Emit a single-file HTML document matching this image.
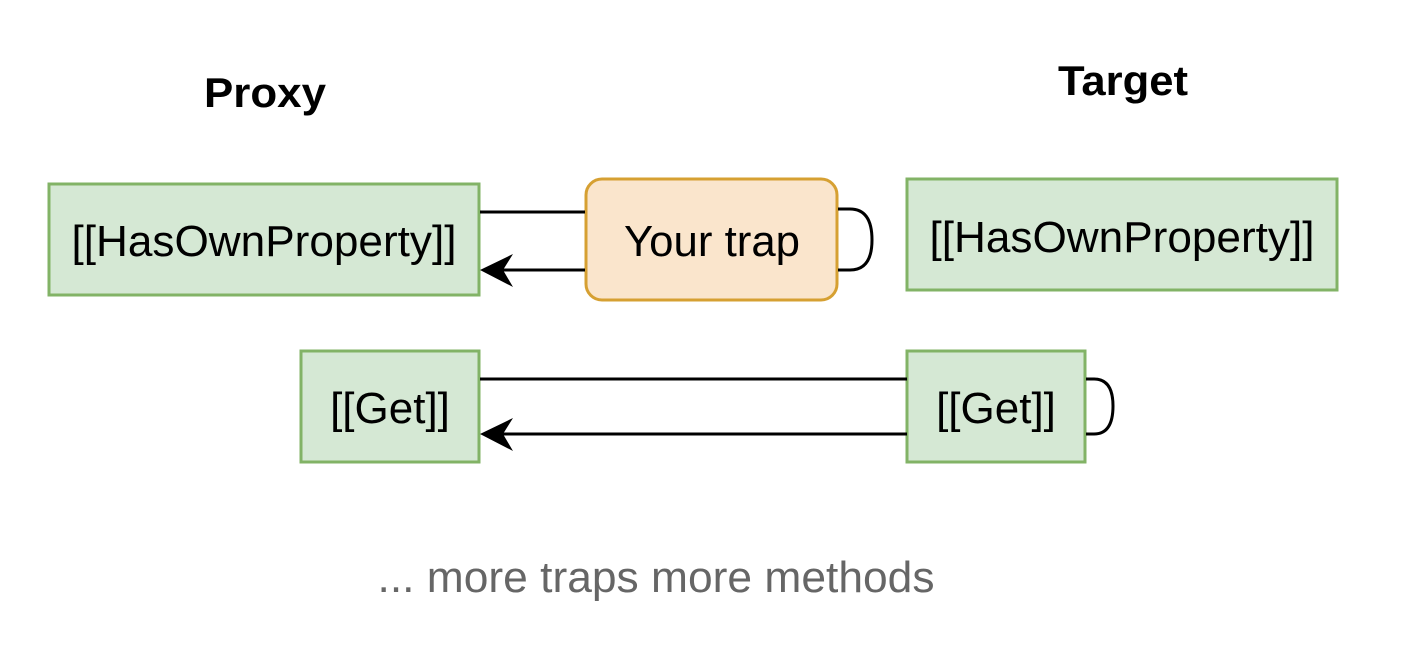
<!DOCTYPE html>
<html><head><style>body{margin:0;background:#fff}svg{display:block}</style></head><body>
<svg width="1424" height="664" xmlns="http://www.w3.org/2000/svg" font-family="Liberation Sans, Arial, sans-serif">
<g stroke="#82b366" stroke-width="3" fill="#d5e8d4">
<rect x="49" y="184" width="430" height="111"/>
<rect x="907" y="179" width="430" height="111"/>
<rect x="301" y="351" width="178" height="111"/>
<rect x="907" y="351" width="178" height="111"/>
</g>
<rect x="586" y="179" width="251" height="121" rx="16" fill="#fae5cc" stroke="#d6a032" stroke-width="3"/>
<g stroke="#000" stroke-width="3" fill="none">
<line x1="480" y1="212" x2="585" y2="212"/>
<line x1="500" y1="270" x2="585" y2="270"/>
<path d="M838 209 H850 Q872 209 872 240 Q872 270 850 270 H838"/>
<line x1="480" y1="379" x2="907" y2="379"/>
<line x1="500" y1="434" x2="907" y2="434"/>
<path d="M1086 379 H1094 Q1113 379 1113 406 Q1113 434 1094 434 H1086"/>
</g>
<path d="M480 270 L513 254 L503 270 L513 287 Z" fill="#000"/>
<path d="M480 434 L513 418 L503 434 L513 451 Z" fill="#000"/>
<g font-size="44" text-anchor="middle" fill="#000">
<text x="264" y="256" textLength="385" lengthAdjust="spacingAndGlyphs">[[HasOwnProperty]]</text>
<text x="712" y="256" textLength="176" lengthAdjust="spacingAndGlyphs">Your trap</text>
<text x="1122" y="252" textLength="385" lengthAdjust="spacingAndGlyphs">[[HasOwnProperty]]</text>
<text x="390" y="423">[[Get]]</text>
<text x="996" y="423">[[Get]]</text>
<text x="265" y="107" font-weight="bold" font-size="42" textLength="122" lengthAdjust="spacingAndGlyphs">Proxy</text>
<text x="1123" y="95" font-weight="bold" font-size="42" textLength="130" lengthAdjust="spacingAndGlyphs">Target</text>
<text x="656" y="592" fill="#666" textLength="557" lengthAdjust="spacingAndGlyphs">... more traps more methods</text>
</g>
</svg>
</body></html>
